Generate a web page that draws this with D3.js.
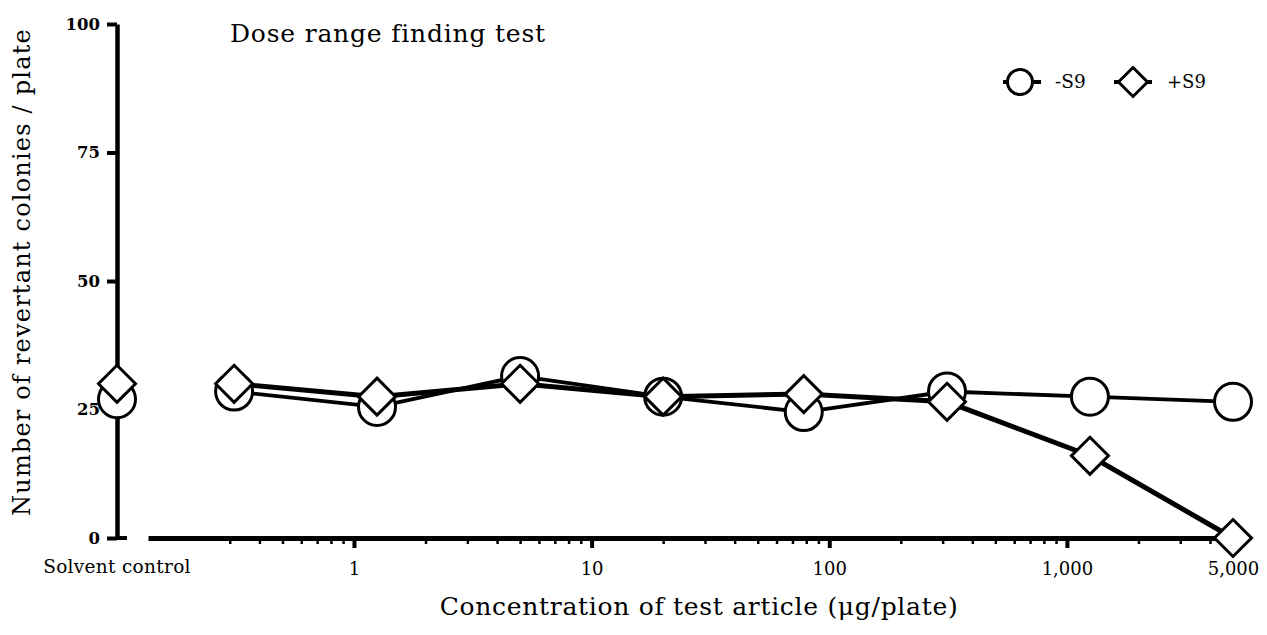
<!DOCTYPE html>
<html lang="en">
<head>
<meta charset="UTF-8">
<title>Dose range finding test</title>
<script src="https://cdn.jsdelivr.net/npm/d3@7"></script>
<style>
  body { margin: 0; background: #fff; }
  text { font-family: "DejaVu Serif", serif; fill: #000; }
  .axis path, .axis line { stroke: #000; }
</style>
</head>
<body>
<svg width="1267" height="635"></svg>
<script>
// data
var doses = [0.313, 1.25, 5, 20, 78.1, 313, 1250, 5000];
var minusS9 = [28.5, 25.5, 31.5, 27.5, 24.5, 28.5, 27.5, 26.5];
var plusS9 = [30, 27.5, 30, 27.5, 28, 26.5, 16, 0];
var solventMinus = 27, solventPlus = 30;

var yTicks = [0, 25, 50, 75, 100];
var majorTicks = [1, 10, 100, 1000, 5000];
var majorLabels = ["1", "10", "100", "1,000", "5,000"];
var minorTicks = [0.3, 0.4, 0.5, 0.6, 0.7, 0.8, 0.9,
                  2, 3, 4, 5, 6, 7, 8, 9,
                  20, 30, 40, 50, 60, 70, 80, 90,
                  200, 300, 400, 500, 600, 700, 800, 900,
                  2000, 3000, 4000];

var svg = d3.select("svg");
var axisX = 117; // y axis position, also where the solvent control sits

var x = d3.scaleLog().domain([0.1359, 5000]).range([148, 1233]);
var y = d3.scaleLinear().domain([0, 100]).range([538, 24]);

// y axis
var gy = svg.append("g").attr("class", "axis")
    .attr("transform", "translate(" + axisX + ",0)")
    .call(d3.axisLeft(y).tickValues(yTicks).tickSize(10).tickSizeOuter(0).tickPadding(7));
gy.select(".domain").attr("stroke-width", 4.5);
gy.selectAll(".tick line").attr("stroke-width", 4);
gy.selectAll(".tick text").attr("font-size", 16.5).attr("font-weight", "bold")
    .attr("font-family", "DejaVu Serif");
gy.append("line").attr("x1", 0).attr("x2", 10).attr("y1", y(0)).attr("y2", y(0))
    .attr("stroke", "#000").attr("stroke-width", 4);

// x axis: minor then major ticks
var gxMinor = svg.append("g").attr("class", "axis")
    .attr("transform", "translate(0," + y(0) + ")")
    .call(d3.axisBottom(x).tickValues(minorTicks).tickSize(6).tickSizeOuter(0).tickFormat(""));
gxMinor.select(".domain").attr("stroke-width", 5);
gxMinor.selectAll(".tick line").attr("stroke-width", 2.5);

var gxMajor = svg.append("g").attr("class", "axis")
    .attr("transform", "translate(0," + y(0) + ")")
    .call(d3.axisBottom(x).tickValues(majorTicks).tickSize(10).tickSizeOuter(0).tickPadding(14)
      .tickFormat(function(d, i) { return majorLabels[i]; }));
gxMajor.select(".domain").remove();
gxMajor.selectAll(".tick line").attr("stroke-width", 4);
gxMajor.selectAll(".tick text").attr("font-size", 18).attr("font-family", "DejaVu Serif");

svg.append("text").attr("x", axisX).attr("y", 573).attr("text-anchor", "middle")
    .attr("font-size", 18.5).attr("letter-spacing", 0.3).text("Solvent control");

// lines
var pts = function(vals) { return doses.map(function(d, i) { return [x(d), y(vals[i])]; }); };
var line = d3.line();
svg.append("path").attr("d", line(pts(minusS9)))
    .attr("fill", "none").attr("stroke", "#000").attr("stroke-width", 3.8);
svg.append("path").attr("d", line(pts(plusS9)))
    .attr("fill", "none").attr("stroke", "#000").attr("stroke-width", 5);

var diamond = function(r) { return "M0," + (-r) + "L" + r + ",0L0," + r + "L" + (-r) + ",0Z"; };

// markers
var circPts = [[axisX, y(solventMinus)]].concat(pts(minusS9));
var diaPts = [[axisX, y(solventPlus)]].concat(pts(plusS9));
svg.selectAll(".circ").data(circPts).enter().append("circle")
    .attr("class", "circ")
    .attr("cx", function(d) { return d[0]; }).attr("cy", function(d) { return d[1]; })
    .attr("r", 18.5).attr("fill", "#fff").attr("stroke", "#000").attr("stroke-width", 3);
svg.selectAll(".dia").data(diaPts).enter().append("path")
    .attr("class", "dia")
    .attr("transform", function(d) { return "translate(" + d[0] + "," + d[1] + ")"; })
    .attr("d", diamond(18.5)).attr("fill", "#fff").attr("stroke", "#000").attr("stroke-width", 3);

// legend
var lg = svg.append("g");
lg.append("line").attr("x1", 1003).attr("x2", 1041).attr("y1", 82).attr("y2", 82)
    .attr("stroke", "#000").attr("stroke-width", 4);
lg.append("circle").attr("cx", 1020).attr("cy", 82).attr("r", 12.5)
    .attr("fill", "#fff").attr("stroke", "#000").attr("stroke-width", 3);
lg.append("text").attr("x", 1055).attr("y", 88).attr("font-size", 18.5).text("-S9");
lg.append("line").attr("x1", 1114).attr("x2", 1152).attr("y1", 82).attr("y2", 82)
    .attr("stroke", "#000").attr("stroke-width", 4);
lg.append("path").attr("transform", "translate(1133,82)").attr("d", diamond(14.5))
    .attr("fill", "#fff").attr("stroke", "#000").attr("stroke-width", 3);
lg.append("text").attr("x", 1167).attr("y", 88).attr("font-size", 18).text("+S9");

// titles
svg.append("text").attr("x", 230).attr("y", 42).attr("font-size", 25)
    .attr("letter-spacing", 0.8).text("Dose range finding test");
svg.append("text").attr("transform", "translate(30,272) rotate(-90)")
    .attr("text-anchor", "middle").attr("font-size", 24).attr("letter-spacing", 1.2)
    .text("Number of revertant colonies / plate");
svg.append("text").attr("x", 699).attr("y", 615).attr("text-anchor", "middle")
    .attr("font-size", 25).attr("letter-spacing", 0.7)
    .text("Concentration of test article (\u03bcg/plate)");
</script>
</body>
</html>
